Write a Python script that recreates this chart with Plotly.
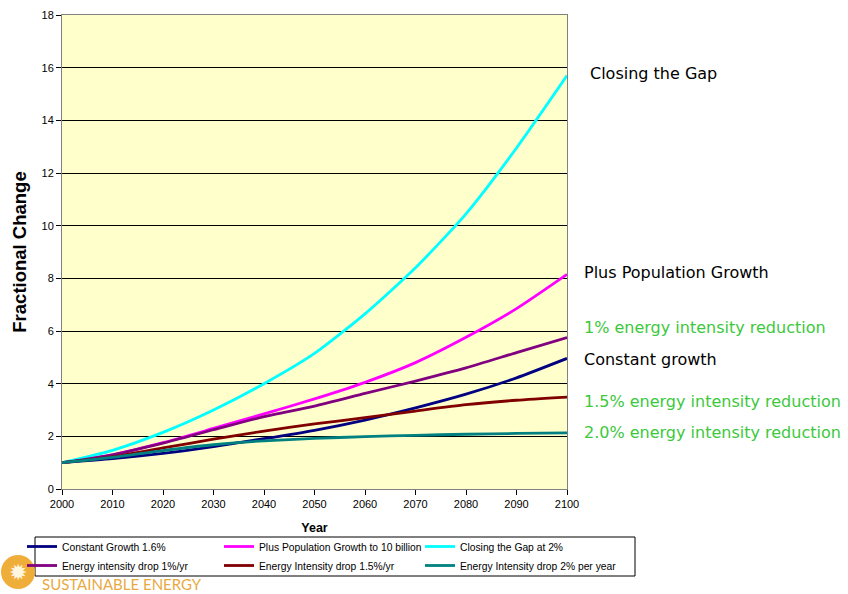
import plotly.graph_objects as go

# Decade sample points, 2000-2100
years = [2000, 2010, 2020, 2030, 2040, 2050, 2060, 2070, 2080, 2090, 2100]

constant_growth = [1.0, 1.15, 1.35, 1.61, 1.91, 2.23, 2.62, 3.08, 3.6, 4.22, 4.96]
population_growth = [1.0, 1.3, 1.76, 2.3, 2.85, 3.42, 4.05, 4.8, 5.76, 6.85, 8.15]
closing_gap = [1.0, 1.47, 2.15, 3.0, 4.0, 5.15, 6.65, 8.4, 10.45, 12.95, 15.7]
intensity_1pct = [1.0, 1.3, 1.74, 2.25, 2.75, 3.15, 3.63, 4.1, 4.6, 5.18, 5.75]
intensity_15pct = [1.0, 1.22, 1.56, 1.89, 2.2, 2.47, 2.71, 2.96, 3.2, 3.37, 3.49]
intensity_2pct = [1.0, 1.2, 1.46, 1.68, 1.83, 1.92, 1.99, 2.04, 2.08, 2.11, 2.13]

series_names = [
    "Constant Growth 1.6%",
    "Plus Population Growth to 10 billion",
    "Closing the Gap at 2%",
    "Energy intensity drop 1%/yr",
    "Energy Intensity drop 1.5%/yr",
    "Energy Intensity drop 2% per year",
]
series_values = [constant_growth, population_growth, closing_gap,
                 intensity_1pct, intensity_15pct, intensity_2pct]
series_colors = ["#000080", "#FF00FF", "#00FFFF", "#800080", "#800000", "#008080"]
# legend column each series goes into
series_legend = ["legend", "legend2", "legend3", "legend", "legend2", "legend3"]

y_ticks = list(range(0, 19, 2))
x_ticks = list(range(2000, 2101, 10))

# right-hand scenario labels: (text, vertical position in data units, colour, left edge px)
side_labels = [
    ("Closing the Gap", 15.78, "#000000", 588),
    ("Plus Population Growth", 8.22, "#000000", 582),
    ("1% energy intensity reduction", 6.14, "#3CC83C", 582),
    ("Constant growth", 4.9, "#000000", 582),
    ("1.5% energy intensity reduction", 3.34, "#3CC83C", 582),
    ("2.0% energy intensity reduction", 2.13, "#3CC83C", 582),
]

W, H = 848, 594
L, R, T, B = 62, 281, 15, 105
PW, PH = W - L - R, H - T - B


def px_x(x):
    return (x - L) / PW


def px_y(y):
    return (H - B - y) / PH


fig = go.Figure()
for name, vals, col, leg in zip(series_names, series_values, series_colors, series_legend):
    fig.add_trace(go.Scatter(
        x=years, y=vals, name=name, mode="lines",
        line=dict(color=col, width=2.8, shape="spline", smoothing=0.6),
        legend=leg,
    ))

legend_common = dict(
    orientation="v", yanchor="top", xanchor="left",
    bgcolor="rgba(0,0,0,0)", borderwidth=0, tracegroupgap=0,
    font=dict(family="Liberation Sans, Arial, sans-serif", size=10.3, color="#000000"),
    y=px_y(532),
)

annotations = []
for text, val, col, xpx in side_labels:
    annotations.append(dict(
        x=px_x(xpx), y=val, xref="paper", yref="y", text=text, showarrow=False,
        xanchor="left", yanchor="middle",
        font=dict(family="DejaVu Sans, Verdana, sans-serif", size=16, color=col),
    ))

# logo sunburst and wordmark
annotations.append(dict(
    x=px_x(18), y=px_y(572), xref="paper", yref="paper", text="✹",
    showarrow=False, xanchor="center", yanchor="middle",
    font=dict(family="DejaVu Sans", size=22, color="#FFF6E0"),
))
annotations.append(dict(
    x=px_x(40), y=px_y(584), xref="paper", yref="paper", text="SUSTAINABLE ENERGY",
    showarrow=False, xanchor="left", yanchor="middle",
    font=dict(family="Lato, sans-serif", size=15, color="#E9A93F"),
))

shapes = [
    # legend frame
    dict(type="rect", xref="paper", yref="paper",
         x0=px_x(35), x1=px_x(635), y0=px_y(576), y1=px_y(537),
         line=dict(color="#000000", width=1), fillcolor="rgba(0,0,0,0)", layer="above"),
    # logo disc
    dict(type="circle", xref="paper", yref="paper",
         x0=px_x(1), x1=px_x(35), y0=px_y(589), y1=px_y(555),
         line=dict(width=0), fillcolor="#EFAE3A", layer="above"),
]

fig.update_layout(
    width=W, height=H,
    margin=dict(l=L, r=R, t=T, b=B, autoexpand=False),
    paper_bgcolor="#FFFFFF",
    plot_bgcolor="#FFFFCC",
    showlegend=True,
    legend=dict(legend_common, x=px_x(22)),
    legend2=dict(legend_common, x=px_x(219)),
    legend3=dict(legend_common, x=px_x(420)),
    annotations=annotations,
    shapes=shapes,
    font=dict(family="Liberation Sans, Arial, sans-serif", size=11, color="#000000"),
    xaxis=dict(
        range=[2000, 2100], tickvals=x_ticks, ticks="outside", ticklen=5,
        tickcolor="#000000", showgrid=False, zeroline=False,
        showline=True, linecolor="#808080", linewidth=1, mirror=True,
        tickfont=dict(size=11),
        title=dict(text="<b>Year</b>", font=dict(size=12.5), standoff=14),
    ),
    yaxis=dict(
        range=[0, 18], tickvals=y_ticks, ticks="outside", ticklen=5,
        tickcolor="#000000", showgrid=True, gridcolor="#000000", gridwidth=1,
        zeroline=False, showline=True, linecolor="#808080", linewidth=1, mirror=True,
        tickfont=dict(size=11),
        title=dict(text="<b>Fractional Change</b>", font=dict(size=18.5), standoff=10),
    ),
)

fig.write_html("out.html")
